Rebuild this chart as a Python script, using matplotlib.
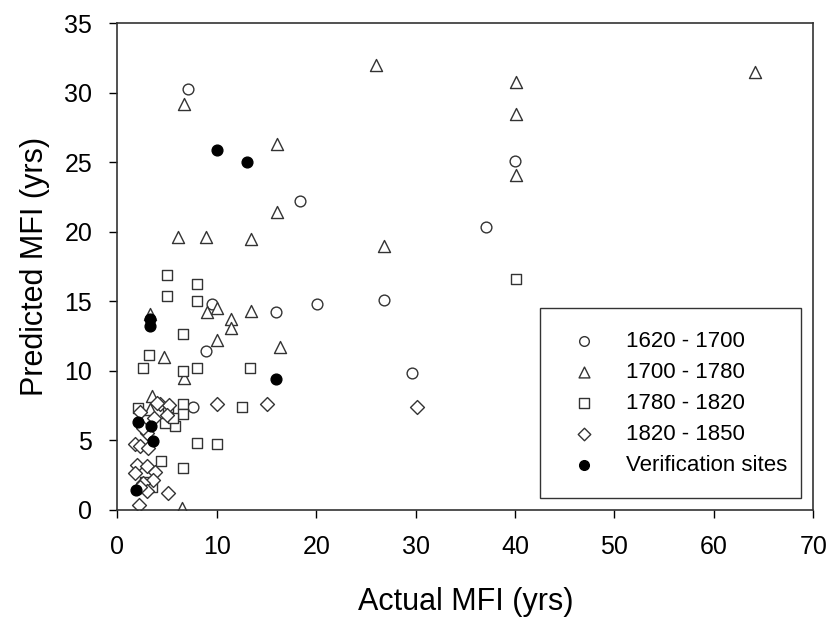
import numpy as np
import matplotlib.pyplot as plt

plt.rcParams['font.family'] = ['Liberation Sans', 'DejaVu Sans']

# 1620 - 1700
x1 = [7.1, 18.4, 40.0, 37.1, 26.8, 20.1, 16.0, 9.5, 8.9, 7.6, 29.6]
y1 = [30.3, 22.2, 25.1, 20.3, 15.1, 14.8, 14.2, 14.8, 11.4, 7.4, 9.8]

# 1700 - 1780
x2 = [6.7, 16.1, 16.1, 6.1, 8.9, 13.4, 26.0, 26.8, 64.1, 40.1, 40.1, 40.1,
      16.4, 13.4, 3.3, 9.0, 10.0, 11.4, 11.4, 10.0, 4.7, 6.7, 3.5, 3.3, 6.5]
y2 = [29.2, 26.3, 21.4, 19.6, 19.6, 19.5, 32.0, 19.0, 31.5, 30.8, 28.5, 24.1,
      11.7, 14.3, 14.1, 14.2, 14.5, 13.7, 13.1, 12.2, 11.0, 9.5, 8.2, 7.2, 0.1]

# 1780 - 1820
x3 = [5.0, 8.0, 5.0, 8.0, 6.6, 3.2, 2.6, 6.6, 8.0, 13.3, 40.1, 12.5, 8.0,
      10.0, 4.4, 6.6, 2.1, 5.1, 6.6, 6.6, 5.8, 4.8, 5.6, 2.8, 3.5]
y3 = [16.9, 16.2, 15.4, 15.0, 12.6, 11.1, 10.2, 10.0, 10.2, 10.2, 16.6, 7.4, 4.8,
      4.7, 3.5, 3.0, 7.3, 7.4, 7.6, 6.9, 6.0, 6.2, 6.6, 2.0, 1.6]

# 1820 - 1850
x4 = [10.0, 15.1, 30.1, 5.1, 2.2, 4.3, 2.3, 5.2, 5.0, 3.0, 1.8, 2.3, 3.1,
      2.0, 3.0, 3.8, 1.8, 3.6, 2.6, 3.0, 2.3, 4.0, 3.7, 2.6]
y4 = [7.6, 7.6, 7.4, 1.2, 0.35, 7.6, 7.0, 7.5, 6.8, 5.5, 4.7, 4.6, 4.4,
      3.2, 3.1, 2.7, 2.6, 2.1, 1.9, 1.3, 1.6, 7.7, 6.6, 5.9]

# Verification sites
x5 = [10.0, 13.0, 16.0, 3.3, 3.3, 2.1, 3.4, 3.6, 1.9]
y5 = [25.9, 25.0, 9.4, 13.7, 13.2, 6.3, 6.0, 4.9, 1.4]

fig = plt.figure(figsize=(8.34, 6.26), dpi=100)
ax = fig.add_axes([0.1407, 0.1861, 0.8345, 0.7767])

kw = dict(facecolor='white', edgecolor='#333333', linewidths=1.0)
ax.scatter(x1, y1, marker='o', s=60, label='1620 - 1700', **kw)
ax.scatter(x2, y2, marker='^', s=75, label='1700 - 1780', **kw)
ax.scatter(x3, y3, marker='s', s=60, label='1780 - 1820', **kw)
ax.scatter(x4, y4, marker='D', s=50, label='1820 - 1850', **kw)
ax.scatter(x5, y5, marker='o', s=60, color='black', label='Verification sites')

ax.set_xlim(0, 70)
ax.set_ylim(0, 35)
ax.set_xticks(np.arange(0, 71, 10))
ax.set_yticks(np.arange(0, 36, 5))
ax.tick_params(labelsize=18, direction='out', length=6, width=1, pad=12,
               top=False, right=False)
for sp in ax.spines.values():
    sp.set_color('#333333')
    sp.set_linewidth(1.2)

ax.set_xlabel('Actual MFI (yrs)', fontsize=22)
ax.set_ylabel('Predicted MFI (yrs)', fontsize=22)
ax.xaxis.set_label_coords(0.5, -0.19)
ax.yaxis.set_label_coords(-0.118, 0.5)
ax.xaxis.label.set_va('center')
ax.yaxis.label.set_va('center')

leg = ax.legend(loc='lower left', bbox_to_anchor=(0.607, 0.024, 0.375, 0.384),
                mode='expand', borderaxespad=0, fontsize=16, markerscale=0.9,
                fancybox=False, edgecolor='#333333', framealpha=1,
                handletextpad=0.9, labelspacing=0.45, borderpad=1.0)
leg.get_frame().set_linewidth(1.0)

fig.savefig('out.png', dpi=100)
